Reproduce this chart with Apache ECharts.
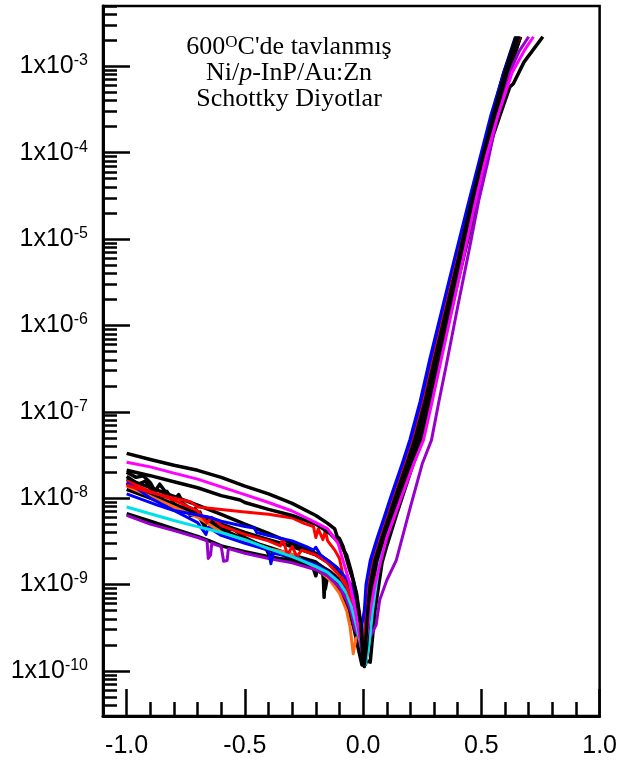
<!DOCTYPE html>
<html><head><meta charset="utf-8">
<script src="https://cdn.jsdelivr.net/npm/echarts@6/dist/echarts.min.js"></script>
<style>html,body{margin:0;padding:0;background:#fff}#c{width:620px;height:765px}</style>
</head><body><div id="c"></div>
<script>
// ---------- axis ticks ----------
const xMajorTicks = [-1.0, -0.5, 0.0, 0.5, 1.0];
const xMinorTicks = [-0.9,-0.8,-0.7,-0.6,-0.4,-0.3,-0.2,-0.1,0.1,0.2,0.3,0.4,0.6,0.7,0.8,0.9];
const yMajorTicks = [1e-10,1e-9,1e-8,1e-7,1e-6,1e-5,1e-4,1e-3];
const yMinorTicks = [];
for (let e = -11; e <= -3; e++) for (let m = 2; m <= 9; m++) {
  const v = Number(m + 'e' + e);
  if (v >= 3e-11 && v <= 5e-3) yMinorTicks.push(v);
}

// ---------- forward branch: shared current levels, per-curve voltages ----------
const fwdI = [2.0e-10,5.0e-10,1.0e-9,1.9e-9,3.5e-9,5.6e-9,1.0e-8,1.58e-8,2.5e-8,4.7e-8,1.32e-7,4.0e-7,5.75e-6,2.8e-5,7.9e-5,2.7e-4,8.5e-4,1.5e-3,2.2e-3];
const fwdV_base   = [0.01,0.02,0.03,0.05,0.08,0.105,0.135,0.16,0.185,0.218,0.262,0.302,0.402,0.459,0.5,0.55,0.6,0.63,0.65];
const fwdV_right1 = [0.015,0.025,0.037,0.058,0.088,0.113,0.143,0.168,0.193,0.226,0.27,0.31,0.41,0.467,0.508,0.558,0.608,0.638,0.658];
const fwdV_right2 = [0.02,0.032,0.045,0.065,0.095,0.12,0.15,0.175,0.2,0.233,0.277,0.317,0.417,0.474,0.515,0.565,0.615,0.645,0.665];
const fwdV_left   = [0.005,0.015,0.025,0.045,0.075,0.1,0.13,0.155,0.18,0.213,0.257,0.297,0.397,0.454,0.495,0.545,0.595,0.625,0.645];
const fwdV_red    = [0.005,0.015,0.025,0.045,0.075,0.1,0.13,0.155,0.18,0.213,0.257,0.297,0.397,0.454,0.495,0.545,0.6,0.635,0.662];
const fwdV_blue1  = [null,0.005,0.012,0.03,0.06,0.085,0.115,0.14,0.165,0.197,0.241,0.281,0.385,0.448,0.49,0.54,0.595,0.627,0.648];
const fwdV_blue2  = [0.005,0.01,0.017,0.035,0.065,0.09,0.12,0.145,0.17,0.202,0.246,0.286,0.39,0.453,0.495,0.545,0.6,0.632,0.653];
const fwdV_cyan   = [0.025,0.04,0.055,0.07,0.09,0.113,0.142,0.166,0.19,0.222,0.266,0.306,0.406,0.464,0.505,0.555,0.605,0.635,0.655];
const fwdV_mag    = [0.01,0.03,0.05,0.075,0.1,0.127,0.16,0.187,0.214,0.255,0.292,0.33,0.422,0.476,0.515,0.57,0.63,0.68,0.72];
const fwdV_orange = [null,0.02,0.03,0.05,0.08,0.105,0.135,0.16,0.185,0.218,0.262,0.302,0.402,0.459,0.5,0.55,0.6,0.63,0.65];

// ---------- reverse branch (and full curves for K8, P): [V, I] ----------
const K1 = [[-1.0,3.3e-8],[-0.9,2.8e-8],[-0.8,2.4e-8],[-0.7,2.1e-8],[-0.6,1.74e-8],[-0.5,1.38e-8],[-0.4,1.12e-8],[-0.3,8.7e-9],[-0.2,6.3e-9],[-0.15,5.1e-9],[-0.12,4.4e-9],[-0.11,3.6e-9],[-0.1,3.4e-9],[-0.085,2.75e-9],[-0.06,1.58e-9],[-0.042,1.12e-9],[-0.028,7.9e-10],[-0.01,3.5e-10],[0.0,1.26e-10]];
const M  = [[-1.0,2.6e-8],[-0.9,2.3e-8],[-0.8,1.95e-8],[-0.7,1.66e-8],[-0.6,1.35e-8],[-0.5,1.1e-8],[-0.4,8.9e-9],[-0.3,7.1e-9],[-0.2,5.2e-9],[-0.15,4.4e-9],[-0.106,3.0e-9],[-0.085,1.9e-9],[-0.06,1.12e-9],[-0.04,6.3e-10],[-0.02,3.2e-10],[0.0,1.6e-10]];
const K2 = [[-1.0,2.1e-8],[-0.9,1.82e-8],[-0.8,1.55e-8],[-0.7,1.32e-8],[-0.6,1.07e-8],[-0.52,9.5e-9],[-0.5,8.9e-9],[-0.4,7.4e-9],[-0.3,6.3e-9],[-0.2,5.0e-9],[-0.14,3.9e-9],[-0.1,3.0e-9],[-0.07,2.2e-9],[-0.05,1.41e-9],[-0.03,7.9e-10],[-0.01,3.2e-10],[0.005,1.2e-10]];
const K3 = [[-1.0,2.0e-8],[-0.96,1.74e-8],[-0.93,1.82e-8],[-0.9,1.51e-8],[-0.88,1.2e-8],[-0.86,1.45e-8],[-0.83,1.12e-8],[-0.8,9.5e-9],[-0.78,1.1e-8],[-0.75,7.6e-9],[-0.73,6.3e-9],[-0.71,7.6e-9],[-0.68,5.2e-9],[-0.66,6.0e-9],[-0.62,4.8e-9],[-0.59,4.3e-9],[-0.55,4.4e-9],[-0.5,3.5e-9],[-0.45,3.0e-9],[-0.41,2.6e-9],[-0.39,2.0e-9],[-0.38,2.5e-9],[-0.31,2.0e-9],[-0.25,1.74e-9],[-0.2,1.51e-9],[-0.17,1.32e-9],[-0.16,8.9e-10],[-0.15,1.26e-9],[-0.12,1.05e-9],[-0.085,7.2e-10],[-0.06,5.0e-10],[-0.04,3.2e-10],[-0.02,1.78e-10],[-0.005,1.17e-10]];
const K4 = [[-1.0,1.78e-8],[-0.95,1.45e-8],[-0.92,1.58e-8],[-0.89,1.17e-8],[-0.85,1.02e-8],[-0.83,1.2e-8],[-0.8,8.7e-9],[-0.77,7.1e-9],[-0.75,8.3e-9],[-0.72,6.3e-9],[-0.69,6.9e-9],[-0.67,4.5e-9],[-0.66,5.8e-9],[-0.63,5.0e-9],[-0.6,4.0e-9],[-0.5,3.2e-9],[-0.45,2.8e-9],[-0.4,2.5e-9],[-0.3,2.1e-9],[-0.22,1.82e-9],[-0.2,1.26e-9],[-0.19,1.7e-9],[-0.14,1.41e-9],[-0.1,1.12e-9],[-0.07,8.3e-10],[-0.05,6.0e-10],[-0.03,3.8e-10],[-0.01,1.9e-10],[0.01,1.2e-10]];
const K5 = [[-1.0,6.6e-9],[-0.9,5.4e-9],[-0.8,4.4e-9],[-0.7,3.6e-9],[-0.65,3.2e-9],[-0.6,2.8e-9],[-0.5,2.4e-9],[-0.4,2.1e-9],[-0.3,1.9e-9],[-0.2,1.58e-9],[-0.14,1.35e-9],[-0.1,1.05e-9],[-0.07,7.6e-10],[-0.05,5.2e-10],[-0.03,3.3e-10],[-0.01,1.78e-10],[0.01,1.2e-10]];
const K6 = [[-1.0,1.48e-8],[-0.9,1.12e-8],[-0.8,8.5e-9],[-0.7,6.6e-9],[-0.6,4.4e-9],[-0.5,3.3e-9],[-0.4,2.7e-9],[-0.3,2.2e-9],[-0.2,1.82e-9],[-0.17,1.58e-9],[-0.165,7.1e-10],[-0.16,1.51e-9],[-0.12,1.26e-9],[-0.11,9.5e-10],[-0.1,1.17e-9],[-0.07,8.3e-10],[-0.05,5.6e-10],[-0.03,3.5e-10],[-0.01,1.78e-10],[0.005,1.12e-10]];
const K7 = [[-1.0,1.66e-8],[-0.9,1.32e-8],[-0.8,1.05e-8],[-0.7,8.3e-9],[-0.6,6.5e-9],[-0.5,5.0e-9],[-0.4,3.9e-9],[-0.3,3.0e-9],[-0.2,2.3e-9],[-0.15,1.9e-9],[-0.1,1.45e-9],[-0.07,1.07e-9],[-0.05,7.6e-10],[-0.03,4.4e-10],[-0.01,2.0e-10],[0.0,1.26e-10]];
const K8 = [[-1.0,1.26e-8],[-0.9,1.0e-8],[-0.8,7.9e-9],[-0.7,6.3e-9],[-0.6,5.0e-9],[-0.5,4.0e-9],[-0.4,3.3e-9],[-0.3,2.75e-9],[-0.2,2.2e-9],[-0.15,1.82e-9],[-0.1,1.38e-9],[-0.07,1.0e-9],[-0.05,7.1e-10],[-0.03,4.0e-10],[-0.01,2.0e-10],[0.01,1.32e-10],[0.03,1.26e-10],[0.05,5.0e-10],[0.08,1.8e-9],[0.1,2.8e-9],[0.14,6.3e-9],[0.2,2.0e-8],[0.25,5.0e-8],[0.3,2.0e-7],[0.4,3.2e-6],[0.5,4.5e-5],[0.55,1.6e-4],[0.6,4.0e-4],[0.62,5.75e-4],[0.635,6.3e-4],[0.68,1.12e-3],[0.76,2.2e-3]];
const R1 = [[-1.0,1.41e-8],[-0.9,1.17e-8],[-0.8,1.0e-8],[-0.73,9.1e-9],[-0.7,7.9e-9],[-0.6,7.4e-9],[-0.5,6.9e-9],[-0.4,6.5e-9],[-0.3,5.9e-9],[-0.25,5.1e-9],[-0.21,4.7e-9],[-0.2,3.5e-9],[-0.19,4.4e-9],[-0.17,3.3e-9],[-0.16,4.2e-9],[-0.15,3.2e-9],[-0.12,2.5e-9],[-0.1,2.0e-9],[-0.085,1.26e-9],[-0.06,7.9e-10],[-0.035,5.5e-10],[-0.02,3.2e-10],[0.0,1.41e-10]];
const R2 = [[-1.0,1.58e-8],[-0.9,1.2e-8],[-0.8,9.5e-9],[-0.7,7.1e-9],[-0.66,5.2e-9],[-0.64,6.0e-9],[-0.6,4.8e-9],[-0.5,3.8e-9],[-0.4,3.2e-9],[-0.35,2.8e-9],[-0.34,3.4e-9],[-0.32,2.2e-9],[-0.3,2.75e-9],[-0.28,2.1e-9],[-0.26,2.5e-9],[-0.2,2.2e-9],[-0.15,1.78e-9],[-0.1,1.26e-9],[-0.07,9.1e-10],[-0.05,6.3e-10],[-0.03,4.0e-10],[-0.01,2.0e-10],[0.005,1.32e-10]];
const B1 = [[-1.0,1.12e-8],[-0.87,8.3e-9],[-0.8,7.2e-9],[-0.65,6.0e-9],[-0.6,5.4e-9],[-0.5,4.7e-9],[-0.46,4.5e-9],[-0.45,4.0e-9],[-0.4,3.7e-9],[-0.3,3.2e-9],[-0.24,2.75e-9],[-0.21,2.5e-9],[-0.2,2.7e-9],[-0.18,2.2e-9],[-0.11,1.58e-9],[-0.05,1.0e-9],[-0.025,5.0e-10],[-0.014,2.6e-10]];
const B2 = [[-1.0,1.51e-8],[-0.95,1.26e-8],[-0.9,1.0e-8],[-0.8,7.2e-9],[-0.7,5.2e-9],[-0.665,3.8e-9],[-0.655,4.6e-9],[-0.6,3.7e-9],[-0.5,3.0e-9],[-0.4,2.5e-9],[-0.39,1.74e-9],[-0.38,2.3e-9],[-0.3,2.1e-9],[-0.2,1.7e-9],[-0.15,1.41e-9],[-0.1,1.07e-9],[-0.07,8.3e-10],[-0.05,6.0e-10],[-0.03,3.8e-10],[-0.01,1.9e-10],[0.0,1.41e-10]];
const C  = [[-1.0,7.9e-9],[-0.9,6.6e-9],[-0.8,5.5e-9],[-0.73,4.9e-9],[-0.6,4.0e-9],[-0.5,3.3e-9],[-0.4,2.6e-9],[-0.3,2.1e-9],[-0.2,1.62e-9],[-0.15,1.38e-9],[-0.1,1.05e-9],[-0.07,7.9e-10],[-0.05,5.6e-10],[-0.03,3.5e-10],[-0.01,2.0e-10],[0.01,1.2e-10]];
const O  = [[-1.0,1.38e-8],[-0.9,1.05e-8],[-0.8,7.9e-9],[-0.7,6.0e-9],[-0.59,3.9e-9],[-0.5,3.2e-9],[-0.4,2.6e-9],[-0.31,2.3e-9],[-0.2,1.58e-9],[-0.14,1.12e-9],[-0.1,7.9e-10],[-0.07,5.0e-10],[-0.055,3.2e-10],[-0.042,1.58e-10],[-0.03,2.4e-10],[-0.01,2.5e-10],[0.01,2.8e-10]];
const P  = [[-1.0,6.3e-9],[-0.9,5.0e-9],[-0.8,4.2e-9],[-0.7,3.5e-9],[-0.66,3.2e-9],[-0.655,2.0e-9],[-0.645,2.2e-9],[-0.64,3.0e-9],[-0.6,2.75e-9],[-0.59,1.86e-9],[-0.575,1.9e-9],[-0.57,2.6e-9],[-0.5,2.3e-9],[-0.4,2.0e-9],[-0.3,1.78e-9],[-0.2,1.48e-9],[-0.15,1.26e-9],[-0.1,9.3e-10],[-0.07,6.6e-10],[-0.05,4.7e-10],[-0.034,3.0e-10],[-0.01,2.2e-10],[0.01,2.0e-10],[0.04,2.8e-10],[0.055,3.4e-10],[0.07,6.6e-10],[0.1,1.12e-9],[0.14,1.9e-9],[0.2,7.9e-9],[0.25,2.5e-8],[0.289,4.7e-8],[0.32,1.3e-7],[0.35,3.3e-7],[0.4,1.66e-6],[0.45,7.9e-6],[0.489,2.8e-5],[0.53,8.5e-5],[0.57,2.9e-4],[0.62,8.5e-4],[0.66,1.5e-3],[0.7,2.2e-3]];

const curves = [
  {rev:K5, fwd:fwdV_right1, color:'#000000', w:3.5},
  {rev:K8, fwd:null,        color:'#000000', w:3.5},
  {rev:K6, fwd:fwdV_right2, color:'#000000', w:3.5},
  {rev:K7, fwd:fwdV_base,   color:'#000000', w:3.5},
  {rev:K4, fwd:fwdV_right2, color:'#000000', w:3.5},
  {rev:K3, fwd:fwdV_left,   color:'#000000', w:3.5},
  {rev:O,  fwd:fwdV_orange, color:'#ff6a13', w:3},
  {rev:P,  fwd:null,        color:'#9900cc', w:3},
  {rev:R2, fwd:fwdV_right1, color:'#ff0000', w:3},
  {rev:B2, fwd:fwdV_blue2,  color:'#0000ff', w:3},
  {rev:C,  fwd:fwdV_cyan,   color:'#00e0e8', w:3},
  {rev:R1, fwd:fwdV_red,    color:'#ff0000', w:3},
  {rev:B1, fwd:fwdV_blue1,  color:'#0000ff', w:3},
  {rev:K2, fwd:fwdV_right1, color:'#000000', w:3.5},
  {rev:M,  fwd:fwdV_mag,    color:'#ff00ff', w:3},
  {rev:K1, fwd:fwdV_base,   color:'#000000', w:3.5}
];

const series = curves.map(c => {
  let data = c.rev.slice();
  if (c.fwd) c.fwd.forEach((v, i) => { if (v !== null) data.push([v, fwdI[i]]); });
  return {
    type:'line', data, xAxisIndex:0, yAxisIndex:0, symbol:'none', showSymbol:false,
    lineStyle:{color:c.color, width:c.w, join:'round'}, itemStyle:{color:c.color},
    silent:true, animation:false
  };
});

const sans = '"Liberation Sans", Arial, sans-serif';
const serif = '"Liberation Serif", "Times New Roman", serif';
const XMIN = -1.1, XMAX = 1.0, YMIN = 3e-11, YMAX = 5e-3;

const chart = echarts.init(document.getElementById('c'), null, {renderer:'canvas'});
chart.setOption({
  animation:false,
  backgroundColor:'#ffffff',
  grid:{left:103, top:6, right:20, bottom:49, show:true, borderColor:'#000', borderWidth:2.5, backgroundColor:'transparent'},
  xAxis:[{
    type:'value', min:XMIN, max:XMAX, position:'bottom',
    axisLine:{show:true, onZero:false, lineStyle:{color:'#000', width:3}},
    axisTick:{show:true, inside:true, length:27, lineStyle:{color:'#000', width:2.5}, customValues:xMajorTicks},
    axisLabel:{show:true, customValues:xMajorTicks, margin:18, color:'#000', fontFamily:sans, fontSize:25,
      formatter:v => v.toFixed(1)},
    splitLine:{show:false}
  },{
    type:'value', min:XMIN, max:XMAX, position:'bottom', gridIndex:0,
    axisLine:{show:false, onZero:false},
    axisTick:{show:true, inside:true, length:14, lineStyle:{color:'#000', width:2.5}, customValues:xMinorTicks},
    axisLabel:{show:false}, splitLine:{show:false}
  }],
  yAxis:[{
    type:'log', logBase:10, min:YMIN, max:YMAX, position:'left',
    axisLine:{show:true, onZero:false, lineStyle:{color:'#000', width:3}},
    axisTick:{show:true, inside:true, length:27, lineStyle:{color:'#000', width:2.5}, customValues:yMajorTicks},
    axisLabel:{show:true, customValues:yMajorTicks, margin:15, color:'#000',
      formatter:v => '{a|1x10}{b|' + Math.round(Math.log10(v)) + '}',
      rich:{
        a:{fontFamily:sans, fontSize:25, lineHeight:27, color:'#000'},
        b:{fontFamily:sans, fontSize:16, lineHeight:13, verticalAlign:'top', color:'#000'}
      }},
    splitLine:{show:false}
  },{
    type:'log', logBase:10, min:YMIN, max:YMAX, position:'left', gridIndex:0,
    axisLine:{show:false, onZero:false},
    axisTick:{show:true, inside:true, length:14, lineStyle:{color:'#000', width:2.5}, customValues:yMinorTicks},
    axisLabel:{show:false}, splitLine:{show:false}
  }],
  graphic:[{
    type:'text', x:289, y:34, silent:true,
    style:{
      text:'{n|600}{s|O}{n|C\'de tavlanmış}\n{n|Ni/}{i|p}{n|-InP/Au:Zn}\n{n|Schottky Diyotlar}',
      align:'center', verticalAlign:'top', fill:'#000',
      rich:{
        n:{fontFamily:serif, fontSize:26, lineHeight:26, fill:'#000'},
        i:{fontFamily:serif, fontSize:26, lineHeight:26, fontStyle:'italic', fill:'#000'},
        s:{fontFamily:serif, fontSize:17, lineHeight:14, verticalAlign:'top', fill:'#000'}
      }
    }
  }],
  series
});
</script></body></html>
